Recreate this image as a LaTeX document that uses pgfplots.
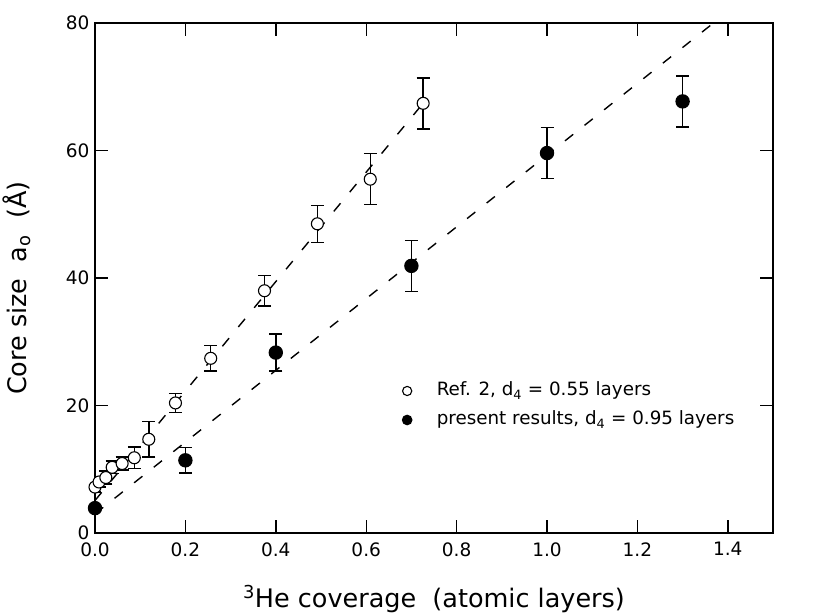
\documentclass[border=0pt]{standalone}
\usepackage{pgfplots}
\pgfplotsset{compat=1.18}
\usepackage{fontspec}
\setmainfont{DejaVu Sans}
\pgfplotstableread{
x y e
0.000 7.2 0.8
0.009 8.0 0.8
0.024 8.7 1.0
0.038 10.3 1.0
0.060 10.9 1.0
0.087 11.8 1.7
0.119 14.7 2.8
0.178 20.4 1.5
0.256 27.4 2.0
0.375 38.0 2.4
0.492 48.5 2.9
0.609 55.5 4.0
0.726 67.4 4.0
}\refdata
\pgfplotstableread{
x y e
0.000 3.9 0.0
0.200 11.4 2.0
0.400 28.3 2.9
0.700 41.9 4.0
1.000 59.6 4.0
1.300 67.7 4.0
}\presdata
\newcommand\tlfont{\fontsize{18.5bp}{22bp}\selectfont}
\newcommand\lgfont{\fontsize{18.3bp}{22bp}\selectfont}
\begin{document}
\begin{tikzpicture}
\begin{axis}[name=ax, scale only axis, width=678bp, height=510bp,
  xmin=0, xmax=1.5, ymin=0, ymax=80,
  xtick={0,0.2,0.4,0.6,0.8,1.0,1.2,1.4}, ytick={0,20,40,60,80},
  xticklabels={{\tlfont 0.0},{\tlfont 0.2},{\tlfont 0.4},{\tlfont 0.6},{\tlfont 0.8},{\tlfont 1.0},{\tlfont 1.2},{\tlfont 1.4}},
  yticklabels={{\tlfont 0},{\tlfont 20},{\tlfont 40},{\tlfont 60},{\tlfont 80}},
  tick align=inside, tick pos=both, major tick length=13bp,
  axis line style={line width=1.4bp},
  every tick/.style={line width=1.4bp, black},
  xticklabel style={yshift=-6bp},
  yticklabel style={xshift=-2bp},
  xlabel={\textsuperscript{3}He coverage\ \ (atomic layers)},
  ylabel={Core size\ \ a\textsubscript{o}\ \ (Å)},
  label style={font=\fontsize{25.5bp}{30bp}\selectfont},
  xlabel style={at={(axis description cs:0.5,0)}, anchor=base, yshift=-74.5bp},
  ylabel style={at={(axis description cs:0,0.48)}, anchor=base, yshift=68bp},
  legend style={draw=none, fill=none, inner sep=0pt,
    font=\lgfont,
    at={(axis cs:0.680,20.0)}, anchor=west,
    nodes={text height=10bp, text depth=0bp, inner sep=0pt},
    row sep=19bp,
    /tikz/every odd column/.append style={column sep=25bp}},
  legend cell align=left,
  legend image code/.code={\draw[#1, mark size=4.6bp] plot coordinates {(0bp,0bp)};},
]
\addplot[only marks, line width=1.4bp, mark=*, mark size=6bp, mark options={fill=white, draw=black, line width=1.1bp},
  error bars/.cd, y dir=both, y explicit,
  error bar style={line width=1.5bp, black},
  error mark options={rotate=90, mark size=6.5bp, line width=1.5bp, black}]
  table[x=x, y=y, y error=e]{\refdata};
\addlegendentry{Ref. 2, d\textsubscript{4} = 0.55 layers}
\addplot[only marks, line width=1.4bp, mark=*, mark size=6.5bp, mark options={fill=black, draw=black},
  error bars/.cd, y dir=both, y explicit,
  error bar style={line width=1.5bp, black},
  error mark options={rotate=90, mark size=6.5bp, line width=1.5bp, black}]
  table[x=x, y=y, y error=e]{\presdata};
\addlegendentry{present results, d\textsubscript{4} = 0.95 layers}
\addplot[black, line width=1.4bp, dash pattern=on 10.5bp off 14.5bp, forget plot]
  coordinates {(0,5.1) (0.72,66.9)};
\addplot[black, line width=1.4bp, dash pattern=on 10.5bp off 14.5bp, forget plot]
  coordinates {(0,3.0) (1.363,79.7)};
\end{axis}
\pgfresetboundingbox
\path ([xshift=-95bp,yshift=-81bp]ax.south west) rectangle ([xshift=57bp,yshift=23bp]ax.north east);
\end{tikzpicture}
\end{document}
